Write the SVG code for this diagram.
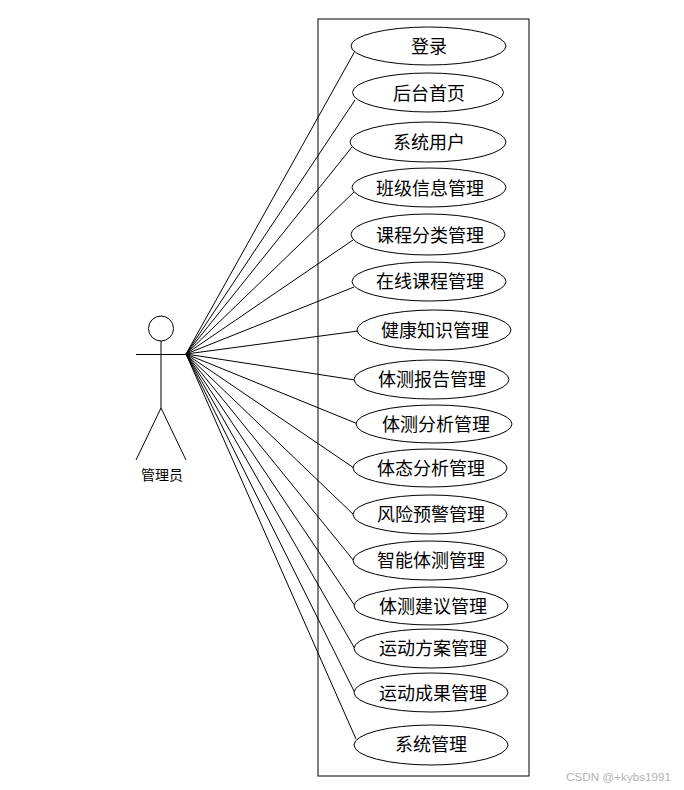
<svg xmlns="http://www.w3.org/2000/svg" width="684" height="790" viewBox="0 0 684 790">
<style>
.s{fill:none;stroke:#000;stroke-width:1}
.e{fill:#fff;stroke:#000;stroke-width:1}
.t{font-family:"Noto Sans CJK SC","Liberation Sans",sans-serif;font-size:18px;fill:#000;text-anchor:middle}
.a{font-family:"Noto Sans CJK SC","Liberation Sans",sans-serif;font-size:14px;fill:#000;text-anchor:middle}
.w{font-family:"Liberation Sans",sans-serif;font-size:11.700px;fill:#b4b4b4}
</style>
<rect width="684" height="790" fill="#fff"/>
<rect id="boundary" class="s" x="318" y="19" width="211" height="757"/>
<g id="connectors" class="s">
<path d="M186 354L355 51"/>
<path d="M186 354L355 100"/>
<path d="M186 354L352 147"/>
<path d="M186 354L354 192"/>
<path d="M186 354L353 240"/>
<path d="M186 354L354 287"/>
<path d="M186 354L358 331"/>
<path d="M186 354L355 380"/>
<path d="M186 354L358 424"/>
<path d="M186 354L354 468"/>
<path d="M186 354L354 515"/>
<path d="M186 354L354 561"/>
<path d="M186 354L355 606"/>
<path d="M186 354L355 649"/>
<path d="M186 354L355 693"/>
<path d="M186 354L356 739"/>
</g>
<g id="actor">
<g class="s"><circle cx="161" cy="328.500" r="12.500"/><path d="M161 341V408M136 354.500H187M161 408L136 460M161 408L186 460"/></g>
<text class="a" x="162" y="480">管理员</text>
</g>
<g id="n1"><ellipse class="e" cx="428.500" cy="46" rx="77.500" ry="19"/><text class="t" x="429" y="53">登录</text></g>
<g id="n2"><ellipse class="e" cx="428" cy="92.500" rx="75.500" ry="19.500"/><text class="t" x="429" y="100">后台首页</text></g>
<g id="n3"><ellipse class="e" cx="428" cy="142" rx="78" ry="20"/><text class="t" x="429" y="149">系统用户</text></g>
<g id="n4"><ellipse class="e" cx="429" cy="187.500" rx="77" ry="19.500"/><text class="t" x="430" y="195">班级信息管理</text></g>
<g id="n5"><ellipse class="e" cx="428" cy="234.500" rx="77" ry="20.500"/><text class="t" x="430" y="242">课程分类管理</text></g>
<g id="n6"><ellipse class="e" cx="429" cy="281.500" rx="77" ry="19.500"/><text class="t" x="430" y="288">在线课程管理</text></g>
<g id="n7"><ellipse class="e" cx="434" cy="330" rx="77" ry="20"/><text class="t" x="435" y="337">健康知识管理</text></g>
<g id="n8"><ellipse class="e" cx="431.500" cy="379.500" rx="77.500" ry="19.500"/><text class="t" x="432" y="386">体测报告管理</text></g>
<g id="n9"><ellipse class="e" cx="434" cy="424" rx="78" ry="19"/><text class="t" x="436" y="431">体测分析管理</text></g>
<g id="n10"><ellipse class="e" cx="430" cy="468" rx="77" ry="19"/><text class="t" x="431" y="475">体态分析管理</text></g>
<g id="n11"><ellipse class="e" cx="430" cy="514.500" rx="77" ry="19.500"/><text class="t" x="431" y="521">风险预警管理</text></g>
<g id="n12"><ellipse class="e" cx="430" cy="560.500" rx="77" ry="19.500"/><text class="t" x="431" y="567">智能体测管理</text></g>
<g id="n13"><ellipse class="e" cx="431" cy="606" rx="77" ry="19"/><text class="t" x="433" y="613">体测建议管理</text></g>
<g id="n14"><ellipse class="e" cx="431" cy="648.500" rx="77" ry="19.500"/><text class="t" x="433" y="655">运动方案管理</text></g>
<g id="n15"><ellipse class="e" cx="431" cy="692.500" rx="77" ry="19.500"/><text class="t" x="433" y="700">运动成果管理</text></g>
<g id="n16"><ellipse class="e" cx="431" cy="745" rx="77" ry="20"/><text class="t" x="431" y="751">系统管理</text></g>
<text class="w" x="566" y="781">CSDN @+kybs1991</text>
</svg>
